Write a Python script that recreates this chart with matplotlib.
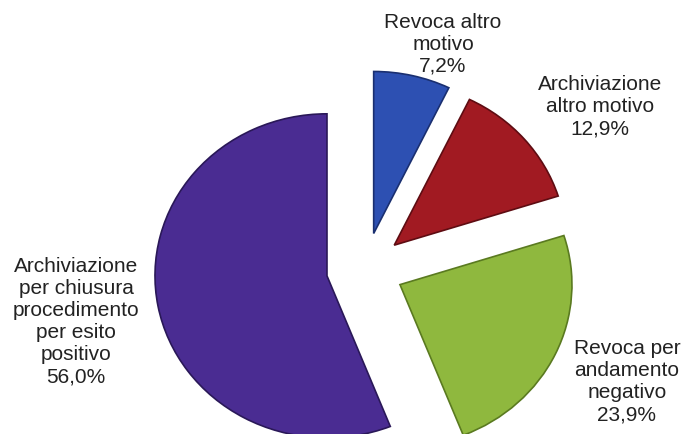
import matplotlib.pyplot as plt

# share of closed procedures, clockwise from the top
labels = ['Revoca altro\nmotivo', 'Archiviazione\naltro motivo',
          'Revoca per\nandamento\nnegativo',
          'Archiviazione\nper chiusura\nprocedimento\nper esito\npositivo']
values = [7.2, 12.9, 23.9, 56.0]
colors = ['#2d50b2', '#a11a22', '#8fb83e', '#4a2c92']
edges = ['#1a2f70', '#5e0c12', '#5a7a20', '#2a1858']

# label anchor points (pixels, y from bottom)
label_pos = [(443, 390), (600, 327), (627, 52), (76, 112)]

W, H = 684, 434
cx, cy = 365, 165      # pie centre in pixels
sx, sy = 172, 162      # pixels per unit radius (pie is a bit wider than tall)

fig = plt.figure(figsize=(6.84, 4.34), dpi=100)
ax = fig.add_axes([0, 0, 1, 1])

wedges, _ = ax.pie(values, startangle=90, counterclock=False,
                   colors=colors, radius=1, explode=[0.225] * 4,
                   wedgeprops=dict(linewidth=1.2))
for w, ec in zip(wedges, edges):
    w.set_edgecolor(ec)

for lab, v, (x, y) in zip(labels, values, label_pos):
    txt = lab + '\n' + f'{v:.1f}'.replace('.', ',') + '%'
    ax.text(x / W, y / H, txt, transform=ax.transAxes, ha='center', va='center',
            fontsize=15, family='Liberation Sans', color='#222222', linespacing=1.2)

ax.set_aspect('auto')
ax.set_xlim(-cx / sx, (W - cx) / sx)
ax.set_ylim(-cy / sy, (H - cy) / sy)
ax.set_axis_off()
fig.savefig('out.png', dpi=100, facecolor='white')
